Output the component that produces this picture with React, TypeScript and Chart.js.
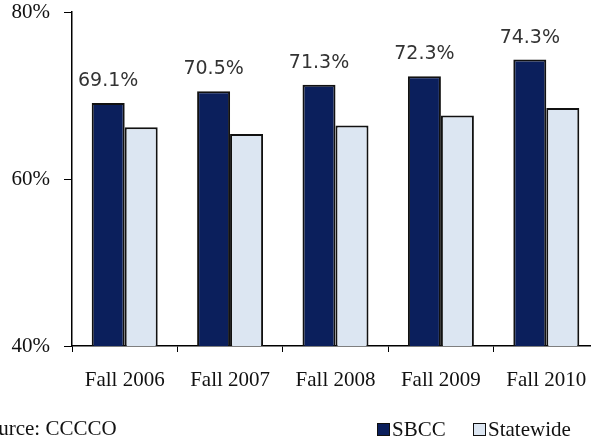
import React, { useEffect, useRef } from "react";
import { Chart, registerables } from "chart.js";

Chart.register(...registerables);

const categories = ["Fall 2006", "Fall 2007", "Fall 2008", "Fall 2009", "Fall 2010"];
const sbccValues = [69.1, 70.5, 71.3, 72.3, 74.3];
const statewideValues = [66.2, 65.4, 66.4, 67.6, 68.5];
const seriesNames = ["SBCC", "Statewide"];
const yTickValues = [40, 60, 80];
const sourceText = "Source: CCCCO";

const SERIF = '"Liberation Serif", "Times New Roman", serif';
const SANS = '"DejaVu Sans", Verdana, sans-serif';
const NAVY = "#0b1f5c";
const LIGHT = "#dce6f2";
const EDGE = "#111111";

const overlayPlugin = {
  id: "overlay",
  afterDatasetsDraw(chart: any) {
    const ctx = chart.ctx;
    const meta = chart.getDatasetMeta(0);
    ctx.save();
    ctx.font = `19px ${SANS}`;
    ctx.fillStyle = "#333333";
    ctx.textAlign = "center";
    ctx.textBaseline = "alphabetic";
    meta.data.forEach((bar: any, i: number) => {
      ctx.fillText(sbccValues[i].toFixed(1) + "%", bar.x, bar.y - 17);
    });
    ctx.restore();
  },
  afterDraw(chart: any) {
    const ctx = chart.ctx;
    ctx.save();
    ctx.font = `21px ${SERIF}`;
    ctx.fillStyle = "#111111";
    ctx.textAlign = "left";
    ctx.textBaseline = "alphabetic";
    // source note (cut off at the left edge like the reference)
    ctx.fillText(sourceText, -24, 435);
    // legend
    const items = [
      { x: 377, color: NAVY, text: seriesNames[0] },
      { x: 473, color: LIGHT, text: seriesNames[1] },
    ];
    items.forEach((it) => {
      ctx.fillStyle = it.color;
      ctx.fillRect(it.x, 423.5, 12, 12);
      ctx.strokeStyle = EDGE;
      ctx.lineWidth = 1;
      ctx.strokeRect(it.x + 0.5, 423.5, 12, 12);
      ctx.fillStyle = "#111111";
      ctx.fillText(it.text, it.x + 15, 436);
    });
    ctx.restore();
  },
};

export default function App() {
  const canvasRef = useRef<HTMLCanvasElement | null>(null);

  useEffect(() => {
    if (!canvasRef.current) return;
    const chart = new Chart(canvasRef.current, {
      type: "bar",
      data: {
        labels: categories,
        datasets: [
          {
            label: seriesNames[0],
            data: sbccValues,
            backgroundColor: NAVY,
            borderColor: EDGE,
            borderWidth: 2,
            categoryPercentage: 0.626,
            barPercentage: 1,
          },
          {
            label: seriesNames[1],
            data: statewideValues,
            backgroundColor: LIGHT,
            borderColor: EDGE,
            borderWidth: 2,
            categoryPercentage: 0.626,
            barPercentage: 1,
          },
        ],
      },
      options: {
        animation: false,
        responsive: true,
        maintainAspectRatio: false,
        layout: { padding: { top: 12, left: 0, right: 0, bottom: 0 } },
        plugins: {
          legend: { display: false },
          tooltip: { enabled: false },
        },
        scales: {
          x: {
            grid: {
              display: true,
              drawOnChartArea: false,
              drawTicks: true,
              tickLength: 6,
              color: "#000000",
              offset: true,
            },
            border: { display: true, color: "#000000", width: 1.5 },
            ticks: {
              font: { family: SERIF, size: 21 },
              color: "#111111",
              padding: 16,
            },
            afterFit: (s: any) => {
              s.height = 97;
              s.paddingLeft = 0;
              s.paddingRight = 0;
            },
          },
          y: {
            min: 40,
            max: 80,
            afterBuildTicks: (s: any) => {
              s.ticks = yTickValues.map((v) => ({ value: v }));
            },
            grid: {
              display: true,
              drawOnChartArea: false,
              drawTicks: true,
              tickLength: 8,
              color: "#000000",
            },
            border: { display: true, color: "#000000", width: 1.5 },
            ticks: {
              callback: (v: any) => v + "%",
              font: { family: SERIF, size: 21 },
              color: "#111111",
              padding: 14,
            },
            afterFit: (s: any) => {
              s.width = 72;
              s.paddingTop = 0;
              s.paddingBottom = 0;
            },
          },
        },
      },
      plugins: [overlayPlugin],
    });
    return () => chart.destroy();
  }, []);

  return (
    <div
      style={{
        position: "fixed",
        left: 0,
        top: 0,
        width: 591,
        height: 443,
        overflow: "hidden",
        background: "#ffffff",
      }}
    >
      <div style={{ position: "relative", width: 599, height: 443 }}>
        <canvas ref={canvasRef} />
      </div>
    </div>
  );
}
